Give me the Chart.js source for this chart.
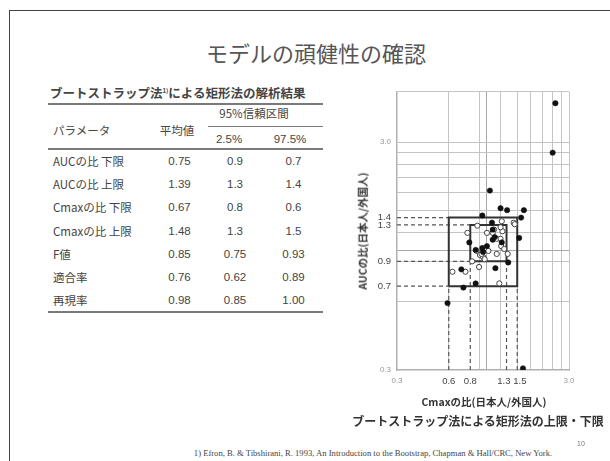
<!DOCTYPE html>
<html>
<head>
<meta charset="utf-8">
<script src="https://cdn.jsdelivr.net/npm/chart.js@4"></script>
<style>
  body { margin: 0; background: #fff; font-family: "Noto Sans CJK JP", "Noto Sans", sans-serif; }
  #slide { position: relative; width: 610px; height: 461px; overflow: hidden; background: #fff; }
  #frame { position: absolute; left: 9px; top: 10px; width: 620px; height: 470px; border-left: 1px solid #444; border-top: 1px solid #444; }
  .t { position: absolute; white-space: nowrap; line-height: 1; color: #444; }
  .c { transform: translate(-50%, -50%); }
  .l { transform: translateY(-50%); }
  .rule { position: absolute; background: #7a7a7a; }
  #chartBox { position: absolute; left: 340px; top: 80px; width: 250px; height: 330px; }
</style>
</head>
<body>
<div id="slide">
  <div id="frame"></div>
  <div class="t c" style="left:316px;top:52px;font-size:22px;color:#555;">モデルの頑健性の確認</div>

  <div class="t l" style="left:50px;top:93px;font-size:12.5px;font-weight:bold;color:#444;">ブートストラップ法<sup style="font-size:6px;vertical-align:5px;">1)</sup>による矩形法の解析結果</div>
  <div class="rule" style="left:48px;top:103px;width:275px;height:2px;"></div>
  <div class="t l" style="left:53px;top:131px;font-size:11.5px;">パラメータ</div>
  <div class="t c" style="left:177px;top:131px;font-size:11.5px;">平均値</div>
  <div class="t c" style="left:254px;top:114px;font-size:11.5px;">95%信頼区間</div>
  <div class="rule" style="left:208px;top:126px;width:115px;height:1px;"></div>
  <div class="t c" id="h025" style="left:229px;top:140px;font-size:11.5px;font-family:'Liberation Sans',sans-serif;"></div>
  <div class="t c" id="h975" style="left:290px;top:140px;font-size:11.5px;font-family:'Liberation Sans',sans-serif;"></div>
  <div class="rule" style="left:48px;top:148px;width:275px;height:2px;"></div>
  <div id="rows"></div>
  <div class="rule" style="left:48px;top:311px;width:275px;height:2px;"></div>

  <div id="chartBox"><canvas id="scatter"></canvas></div>
  <div class="t c" style="left:363px;top:231px;font-size:10.5px;font-weight:bold;color:#333;transform:translate(-50%,-50%) rotate(-90deg);">AUCの比(日本人/外国人)</div>
  <div class="t c" style="left:484px;top:402px;font-size:10.5px;font-weight:bold;color:#333;">Cmaxの比(日本人/外国人)</div>
  <div class="t c" style="left:478px;top:421px;font-size:12px;font-weight:bold;color:#333;">ブートストラップ法による矩形法の上限・下限</div>

  <div class="t c" style="left:373px;top:453px;font-size:8.6px;color:#444;font-family:'Liberation Serif',serif;">1) Efron, B. &amp; Tibshirani, R. 1993, An Introduction to the Bootstrap, Chapman &amp; Hall/CRC, New York.</div>
  <div class="t c" style="left:581px;top:443px;font-size:7px;color:#777;font-family:'Liberation Sans',sans-serif;">10</div>
</div>

<script>
// bootstrap results table
var paramNames = ["AUCの比 下限", "AUCの比 上限", "Cmaxの比 下限", "Cmaxの比 上限", "F値", "適合率", "再現率"];
var meanVals   = ["0.75", "1.39", "0.67", "1.48", "0.85", "0.76", "0.98"];
var ci025Vals  = ["0.9",  "1.3",  "0.8",  "1.3",  "0.75", "0.62", "0.85"];
var ci975Vals  = ["0.7",  "1.4",  "0.6",  "1.5",  "0.93", "0.89", "1.00"];
var ciHeaders  = ["2.5%", "97.5%"];

// bootstrap replicates: Cmax ratio, AUC ratio
var solidPoints = [
  [2.50, 4.45], [2.41, 2.70], [1.04, 1.84], [1.20, 1.54], [1.31, 1.51], [1.64, 1.51],
  [1.58, 1.40], [0.94, 1.43], [1.07, 1.33], [1.54, 1.14], [0.79, 1.09], [1.08, 1.24],
  [1.08, 1.12], [1.11, 1.15], [0.94, 1.03], [1.00, 1.05], [0.86, 1.01], [0.95, 0.99],
  [1.22, 1.09], [1.12, 0.84], [1.33, 0.89], [0.71, 0.83], [0.73, 0.69], [0.86, 0.72],
  [0.59, 0.59], [1.62, 0.305]
];
var hollowPoints = [
  [0.77, 1.20], [0.88, 1.29], [1.22, 1.35], [1.43, 1.33], [1.45, 1.31], [1.10, 1.24],
  [1.00, 1.20], [1.08, 1.20], [1.23, 1.22], [1.14, 1.13], [1.20, 1.13], [1.21, 1.05],
  [1.26, 1.02], [1.02, 1.00], [0.91, 0.96], [0.95, 0.94], [0.97, 0.92], [1.14, 0.97],
  [1.32, 0.97], [0.82, 0.90], [0.90, 0.85], [0.63, 0.81], [0.75, 0.81], [1.18, 0.72],
  [1.20, 1.27], [0.87, 1.00], [0.93, 0.97]
];

// axis setup (log scales)
var axisMin = 0.3, xMax = 3.0, yMax = 5;
var gridVals = [0.6, 0.9, 1.0, 1.2, 1.5, 1.8, 2.1, 2.4, 2.7, 3.0];
var xTickLabels = [0.3, 0.6, 0.8, 1.3, 1.5, 3.0];
var yTickLabels = [0.3, 0.7, 0.9, 1.3, 1.4, 3.0];

// fill in the table
document.getElementById("h025").textContent = ciHeaders[0];
document.getElementById("h975").textContent = ciHeaders[1];
var rowsDiv = document.getElementById("rows");
var rowTop = 162, rowStep = 23.2;
paramNames.forEach(function (name, i) {
  var y = rowTop + i * rowStep;
  var cells = [
    [name, 53, "l"], [meanVals[i], 179.5, "c"], [ci025Vals[i], 235, "c"], [ci975Vals[i], 293.5, "c"]
  ];
  cells.forEach(function (c, j) {
    var d = document.createElement("div");
    d.className = "t " + c[2];
    d.style.left = c[1] + "px";
    d.style.top = y + "px";
    d.style.fontSize = "11.5px";
    if (j > 0) d.style.fontFamily = "'Liberation Sans', sans-serif";
    d.textContent = c[0];
    rowsDiv.appendChild(d);
  });
});

function same(a, b) { return Math.abs(a - b) < 1e-6; }
function inList(v, list) { return list.some(function (x) { return same(x, v); }); }

// rectangles from the confidence limits: inner = 2.5%, outer = 97.5%
var aucLo = 0, aucHi = 1, cmaxLo = 2, cmaxHi = 3;
function rectFrom(col) {
  var x0 = +col[cmaxLo], x1 = +col[cmaxHi], y0 = +col[aucLo], y1 = +col[aucHi];
  return [{x: x0, y: y0}, {x: x1, y: y0}, {x: x1, y: y1}, {x: x0, y: y1}, {x: x0, y: y0}];
}
var innerRect = rectFrom(ci025Vals);
var outerRect = rectFrom(ci975Vals);

function guideLines(col) {
  var x0 = +col[cmaxLo], x1 = +col[cmaxHi], y0 = +col[aucLo], y1 = +col[aucHi];
  return [
    [{x: axisMin, y: y0}, {x: x0, y: y0}],
    [{x: axisMin, y: y1}, {x: x0, y: y1}],
    [{x: x0, y: axisMin}, {x: x0, y: y0}],
    [{x: x1, y: axisMin}, {x: x1, y: y0}]
  ];
}

var datasets = [
  {
    data: solidPoints.map(function (p) { return {x: p[0], y: p[1]}; }),
    pointRadius: 2.7, backgroundColor: "#111", borderColor: "#111", borderWidth: 0.5
  },
  {
    data: hollowPoints.map(function (p) { return {x: p[0], y: p[1]}; }),
    pointRadius: 2.6, backgroundColor: "#fff", borderColor: "#444", borderWidth: 1
  },
  { data: innerRect, showLine: true, pointRadius: 0, borderColor: "#333", borderWidth: 2 },
  { data: outerRect, showLine: true, pointRadius: 0, borderColor: "#333", borderWidth: 2 }
];
guideLines(ci025Vals).concat(guideLines(ci975Vals)).forEach(function (seg) {
  datasets.push({
    data: seg, showLine: true, pointRadius: 0, borderColor: "#555",
    borderWidth: 1.2, borderDash: [4, 3]
  });
});

function isEdge(v) { return same(v, axisMin) || same(v, 3.0); }
function tickFont(ctx) {
  var v = ctx.tick ? ctx.tick.value : 0;
  return {family: "'Liberation Sans', sans-serif", size: isEdge(v) ? 8 : 9.5};
}
function tickColor(ctx) {
  var v = ctx.tick ? ctx.tick.value : 0;
  return isEdge(v) ? "#999" : "#444";
}
function gridColor(ctx) {
  var v = ctx.tick ? ctx.tick.value : 0;
  if (same(v, 1.0)) return "#a8a8a8";
  if (inList(v, gridVals) || same(v, yMax)) return "#c4c4c4";
  return "rgba(0,0,0,0)";
}

function logAxis(max, labels, other, fmt) {
  var vals = [axisMin].concat(gridVals, labels, [max]).filter(function (v) { return v <= max + 1e-9; });
  vals = vals.filter(function (v, i) { return vals.findIndex(function (w) { return same(v, w); }) === i; })
             .sort(function (a, b) { return a - b; });
  return Object.assign({
    type: "logarithmic",
    min: axisMin,
    max: max,
    afterBuildTicks: function (scale) {
      scale.ticks = vals.map(function (v) { return {value: v}; });
    },
    ticks: {
      autoSkip: false, maxRotation: 0, minRotation: 0, padding: 6,
      font: tickFont,
      color: tickColor,
      callback: function (v) { return inList(v, labels) ? (fmt ? fmt(v) : v.toFixed(1)) : ""; }
    },
    grid: { color: gridColor, lineWidth: 1, drawTicks: false },
    border: { display: true, color: "#b0b0b0", width: 1.5 }
  }, other);
}

// 1.3 and 1.5 sit close together on x, nudge them apart with padding spaces
function xFmt(v) {
  var s = v.toFixed(1);
  if (same(v, 1.3)) return s + "  ";
  if (same(v, 1.5)) return "  " + s;
  return s;
}

new Chart(document.getElementById("scatter"), {
  type: "scatter",
  data: { datasets: datasets },
  options: {
    responsive: true,
    maintainAspectRatio: false,
    animation: false,
    layout: { padding: { top: 10, right: 21, left: 0, bottom: 0 } },
    plugins: { legend: { display: false }, tooltip: { enabled: false } },
    scales: {
      x: logAxis(xMax, xTickLabels, { afterFit: function (s) { s.height = 40; } }, xFmt),
      y: logAxis(yMax, yTickLabels, { afterFit: function (s) { s.width = 57; } })
    }
  }
});
</script>
</body>
</html>
